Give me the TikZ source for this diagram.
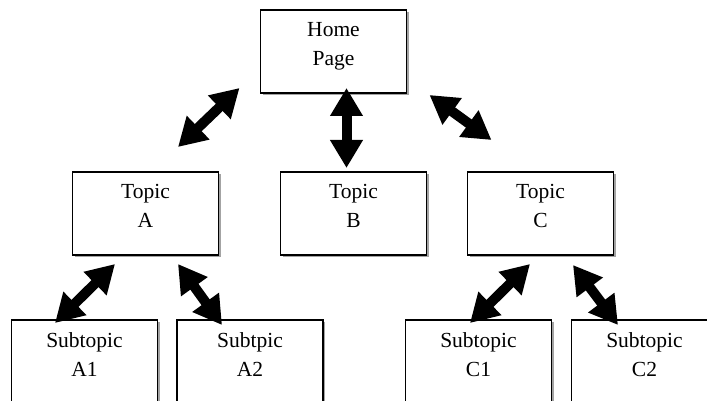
\documentclass[tikz,border=0pt]{standalone}
\usepackage{fontspec}
\setmainfont{Liberation Serif}
\usetikzlibrary{arrows.meta,shadows,calc}
\newcommand{\boxtxt}[2]{\parbox[c][#1][t]{146pt}{\centering\fontsize{21.5}{29}\selectfont\vspace*{12.5pt}#2}}
\tikzset{
  plainbox/.style={draw=black, line width=1.6pt, fill=white, inner sep=0pt, outer sep=0pt},
  pagebox/.style={plainbox,
    drop shadow={shadow xshift=2pt, shadow yshift=-2pt, fill=black!60, opacity=0.6}},
  dblarrow/.style={line width=10pt, {Triangle[width=31pt,length=28pt]}-{Triangle[width=31pt,length=28pt]}}
}
\begin{document}
\begin{tikzpicture}[x=1pt,y=-1pt]
\fill[white] (0,0) rectangle (707,401);
% boxes
\node[pagebox] (home) at (333.5,51.5) {\boxtxt{83pt}{Home\\Page}};
\node[pagebox] (topA) at (145.5,213.5) {\boxtxt{83pt}{Topic\\A}};
\node[pagebox] (topB) at (353.5,213.5) {\boxtxt{83pt}{Topic\\B}};
\node[pagebox] (topC) at (540.5,213.5) {\boxtxt{83pt}{Topic\\C}};
\node[pagebox] (subA1) at (84.5,370) {\boxtxt{100pt}{Subtopic\\A1}};
\node[pagebox] (subA2) at (250,370) {\boxtxt{100pt}{Subtpic\\A2}};
\node[pagebox] (subC1) at (478.5,370) {\boxtxt{100pt}{Subtopic\\C1}};
\node[plainbox] (subC2) at (644.5,370) {\boxtxt{100pt}{Subtopic\\C2}};
% arrows
\draw[dblarrow] ($(home.south west)+(-21,-5)$) -- ($(topA.north)+(32.5,-25)$);
\draw[dblarrow] ($(home.south)+(13,-5)$) -- ($(topB.north)+(-7,-4)$);
\draw[dblarrow] ($(home.south east)+(23,2)$) -- ($(topC.north)+(-49,-32)$);
\draw[dblarrow] ($(topA.south)+(-30.5,9)$) -- ($(subA1.north)+(-29.5,3)$);
\draw[dblarrow] ($(topA.south)+(32.5,9)$) -- ($(subA2.north)+(-28,5)$);
\draw[dblarrow] ($(topC.south)+(-10.5,9)$) -- ($(subC1.north)+(-8.5,3)$);
\draw[dblarrow] ($(topC.south)+(32.5,10)$) -- ($(subC2.north)+(-26.5,5)$);
\pgfresetboundingbox
\useasboundingbox (0,0) rectangle (707,401);
\end{tikzpicture}
\end{document}
